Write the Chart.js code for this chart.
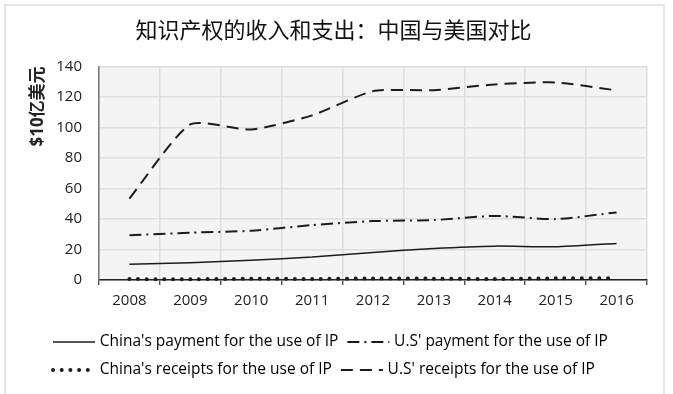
<!DOCTYPE html>
<html><head><meta charset="utf-8">
<script src="https://cdn.jsdelivr.net/npm/chart.js@4/dist/chart.umd.min.js"></script>
<style>
html,body{margin:0;padding:0;background:#fff;}
#wrap{position:relative;width:673px;height:394px;overflow:hidden;background:#fff;}
#frame{position:absolute;left:4px;top:4px;width:661px;height:400px;border:2px solid #e6e6e6;box-sizing:border-box;}
canvas{position:absolute;left:0;top:0;}
</style></head><body>
<div id="wrap"><div id="frame"></div><canvas id="c" width="673" height="394"></canvas></div>
<script>
const chartTitle = '知识产权的收入和支出：中国与美国对比';
const yAxisTitle = '$10亿美元';
const years = ['2008','2009','2010','2011','2012','2013','2014','2015','2016'];
const chinaPayment = [10.3, 11.3, 13.0, 15.0, 18.1, 20.7, 22.2, 21.8, 24.0];
const usPayment = [29.4, 31.0, 32.3, 36.0, 38.6, 39.3, 42.0, 39.9, 44.3];
const chinaReceipts = [0.6, 0.5, 0.8, 0.7, 1.0, 0.9, 0.7, 1.1, 1.2];
const usReceipts = [53.4, 102.0, 98.6, 107.9, 123.8, 124.4, 128.2, 129.5, 124.3];
const seriesNames = ["China's payment for the use of IP", "U.S' payment for the use of IP", "China's receipts for the use of IP", "U.S' receipts for the use of IP"];
const yTicks = [0, 20, 40, 60, 80, 100, 120, 140];

const ink = '#1c1c1c';
const fontFam = "'Open Sans', 'Noto Sans CJK SC', sans-serif";

const plotBg = {
  id: 'plotBg',
  beforeDraw(chart) {
    const {ctx, chartArea: a} = chart;
    ctx.save();
    ctx.fillStyle = '#f4f4f4';
    ctx.fillRect(a.left, a.top, a.right - a.left, a.bottom - a.top);
    ctx.restore();
  }
};

// start the left-aligned legend rows under the plot, like the reference
const legendIndent = {
  id: 'legendIndent',
  afterLayout(chart) {
    if (chart.legend) chart.legend.left = 44;
  }
};

// draws the line-style samples of the legend inside the legend's own item boxes
const legendSamples = {
  id: 'legendSamples',
  afterDraw(chart) {
    const lg = chart.legend;
    if (!lg || !lg.legendHitBoxes) return;
    const {ctx} = chart;
    const bw = lg.options.labels.boxWidth;
    lg.legendItems.forEach((item, i) => {
      const hb = lg.legendHitBoxes[i];
      const y = hb.top + hb.height / 2;
      ctx.save();
      ctx.strokeStyle = item.sampleColor;
      ctx.lineWidth = item.sampleWidth;
      ctx.lineCap = item.sampleCap;
      ctx.setLineDash(item.sampleDash);
      ctx.beginPath();
      ctx.moveTo(hb.left - 3, y);
      ctx.lineTo(hb.left + bw + 3, y);
      ctx.stroke();
      ctx.restore();
    });
  }
};

new Chart(document.getElementById('c'), {
  type: 'line',
  data: {
    labels: years,
    datasets: [
      {label: seriesNames[0], data: chinaPayment, borderColor: ink, backgroundColor: ink, borderWidth: 1.5, borderDash: [], tension: 0.2, pointRadius: 0},
      {label: seriesNames[1], data: usPayment, borderColor: ink, backgroundColor: ink, borderWidth: 2, borderDash: [12, 5, 2, 5], tension: 0.2, pointRadius: 0},
      {label: seriesNames[2], data: chinaReceipts, borderColor: ink, backgroundColor: ink, borderWidth: 4, borderDash: [0, 8.7], borderCapStyle: 'round', tension: 0.2, pointRadius: 0, clip: false},
      {label: seriesNames[3], data: usReceipts, borderColor: ink, backgroundColor: ink, borderWidth: 2, borderDash: [12, 7], tension: 0.2, pointRadius: 0}
    ]
  },
  options: {
    responsive: false,
    animation: false,
    events: [],
    layout: {padding: {left: 20, right: 26, top: 0, bottom: 6}},
    plugins: {
      title: {display: true, text: chartTitle, color: '#111', font: {family: fontFam, size: 22, weight: 'normal'}, padding: {top: 19, bottom: 21}},
      legend: {
        position: 'bottom',
        align: 'start',
        labels: {
          usePointStyle: false, boxWidth: 36, boxHeight: 16,
          color: '#222', font: {family: fontFam, size: 15.5}, padding: 12,
          generateLabels(chart) {
            return chart.data.datasets.map((ds, i) => ({
              text: ds.label,
              fillStyle: 'rgba(0,0,0,0)',
              strokeStyle: 'rgba(0,0,0,0)',
              lineWidth: 0,
              hidden: false,
              datasetIndex: i,
              sampleColor: ds.borderColor,
              sampleWidth: ds.borderWidth,
              sampleDash: ds.borderDash,
              sampleCap: ds.borderCapStyle || 'butt'
            }));
          }
        }
      },
      tooltip: {enabled: false}
    },
    scales: {
      x: {
        offset: true,
        grid: {offset: true, color: '#dedede', lineWidth: 1.5, drawTicks: true, tickLength: 5, tickColor: '#333', tickWidth: 1.2},
        border: {color: '#222', width: 1.5},
        ticks: {color: '#222', font: {family: fontFam, size: 15}, padding: 7},
        afterFit(s) { s.height = 42; }
      },
      y: {
        min: 0, max: 140,
        afterBuildTicks(s) { s.ticks = yTicks.map(v => ({value: v})); },
        grid: {color: '#dedede', lineWidth: 1.5, drawTicks: false},
        border: {color: '#777', width: 1.5},
        ticks: {color: '#222', font: {family: fontFam, size: 15}, padding: 17},
        title: {display: true, text: yAxisTitle, align: 'end', color: '#222', font: {family: fontFam, size: 17, weight: 'bold'}, padding: {top: 8, bottom: 0}},
        afterFit(s) { s.width = 79; }
      }
    }
  },
  plugins: [plotBg, legendIndent, legendSamples]
});
</script>
</body></html>
